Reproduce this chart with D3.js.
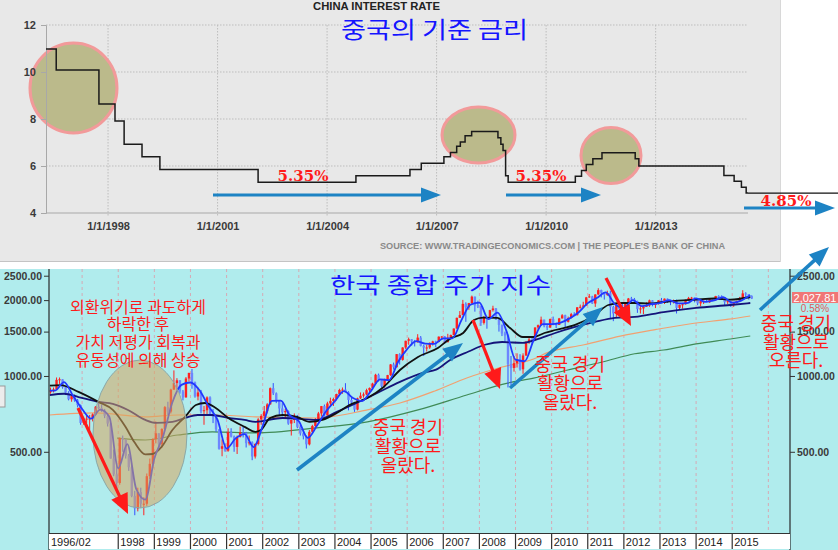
<!DOCTYPE html>
<html><head><meta charset="utf-8">
<script src="https://cdn.jsdelivr.net/npm/d3@7"></script>
<style>html,body{margin:0;padding:0;background:#fff;overflow:hidden}svg{display:block}</style>
</head><body>
<svg id="c" width="838" height="550"></svg>
<script>
// ================= DATA =================
// China benchmark 1-year lending rate (step changes, decimal year)
const rateYears  = [1996.30,1996.58,1997.75,1998.19,1998.44,1998.93,1999.42,2002.11,2004.79,2006.27,2006.58,2007.20,2007.38,2007.55,2007.65,2007.78,2007.96,2008.68,2008.76,2008.82,2008.89,2008.96,2010.80,2010.97,2011.10,2011.28,2011.53,2012.44,2012.54,2014.87,2015.15,2015.35,2015.48];
const rateValues = [10.98,10.08,8.64,7.92,6.93,6.39,5.85,5.31,5.58,5.85,6.12,6.39,6.57,6.84,7.02,7.29,7.47,7.20,6.93,6.66,5.58,5.31,5.56,5.81,6.06,6.31,6.56,6.31,6.00,5.60,5.35,5.10,4.85];
const rateEndYear = 2015.53;
const rateTickValues = [4,6,8,10,12];
const rateTickYears = [1998,2001,2004,2007,2010,2013];

// KOSPI monthly candles, Feb 1996 .. Jul 2015
const kospiStartYear = 1996, kospiStartMonth = 2, kospiFirstOpen = 862;
const kospiClose = [
 878,884,965,970,902,858,808,832,800,766,651,
 675,677,678,704,755,745,727,695,647,470,407,376,
 567,559,482,434,334,298,346,311,311,400,448,562,
 592,536,616,752,722,883,937,961,868,822,977,1028,
 943,829,860,725,731,822,705,688,614,514,526,505,
 598,575,523,572,596,595,541,545,479,537,672,694,
 724,771,894,853,797,743,718,725,647,669,687,628,
 592,576,535,600,633,670,710,759,697,778,796,810,
 848,880,883,862,803,785,735,815,835,845,878,896,
 932,1011,965,911,970,1008,1111,1083,1221,1158,1297,1379,
 1399,1371,1359,1420,1317,1295,1297,1352,1371,1364,1432,1434,
 1361,1417,1453,1542,1701,1744,1933,1873,1946,2065,1906,1897,
 1624,1712,1704,1825,1853,1674,1595,1474,1448,1113,1076,1124,
 1162,1063,1206,1369,1396,1390,1557,1591,1673,1580,1555,1682,
 1602,1594,1692,1741,1641,1698,1759,1742,1873,1882,1904,2051,
 2069,1939,2106,2192,2142,2100,2133,1880,1770,1909,1847,1826,
 1956,2030,2014,1981,1843,1854,1881,1905,1996,1912,1933,1997,
 1962,2027,2005,1964,2001,1863,1915,1926,1997,2040,2045,2011,
 1941,1980,1986,1962,2017,2002,2076,2068,2020,1964,1981,1916,
 1949,1986,2041,2127,2115,2074,2028];
const kospiHigh = [
 900,900,986,986,970,905,870,845,845,810,770,
 680,700,700,710,760,792,770,740,700,650,510,450,
 570,580,560,490,440,350,360,360,330,410,470,565,
 660,590,620,760,790,890,1052,980,960,880,990,1030,
 1066,950,900,880,760,830,830,740,700,610,560,540,
 620,620,580,580,630,630,600,580,550,540,680,705,
 760,780,900,937,860,800,780,740,730,670,710,700,
 640,610,580,610,640,680,720,760,770,790,820,820,
 850,890,900,936,870,820,790,820,860,860,890,900,
 940,1020,1022,970,975,1010,1115,1130,1222,1230,1300,1380,
 1420,1400,1390,1465,1440,1330,1330,1360,1380,1380,1435,1440,
 1440,1470,1460,1545,1705,1810,2004,1960,1950,2085,2050,1990,
 1900,1730,1710,1830,1900,1860,1700,1600,1500,1460,1200,1200,
 1230,1220,1230,1370,1435,1440,1560,1600,1720,1670,1610,1690,
 1720,1630,1700,1760,1750,1720,1780,1790,1875,1920,1970,2060,
 2115,2080,2110,2230,2200,2150,2180,2180,1900,1940,1950,1940,
 1960,2040,2060,2040,1990,1900,1900,1960,2010,2000,1940,2000,
 2040,2030,2030,2000,2010,2010,1920,1950,2010,2060,2060,2050,
 2010,1990,1990,2010,2020,2020,2080,2090,2090,2030,1990,1990,
 1960,1990,2060,2190,2150,2110,2090];
const kospiLow = [
 850,860,880,930,890,840,800,790,790,750,640,
 640,650,610,660,700,740,720,680,630,470,400,350,
 370,500,470,420,330,280,290,300,280,305,390,430,
 540,510,520,610,700,710,880,880,850,800,820,950,
 890,820,800,710,640,700,700,650,600,510,480,500,
 500,570,500,490,570,570,520,530,463,470,530,640,
 670,710,770,840,780,700,690,680,640,580,650,620,
 580,560,515,530,590,620,660,690,690,700,760,760,
 800,840,850,860,730,760,720,730,810,820,840,860,
 880,930,950,900,900,960,1000,1060,1080,1110,1150,1280,
 1330,1320,1310,1360,1310,1200,1250,1280,1320,1300,1360,1390,
 1345,1360,1400,1450,1540,1700,1750,1640,1830,1930,1800,1860,
 1580,1600,1540,1700,1800,1670,1500,1440,1360,900,920,1040,
 1080,1050,1020,1200,1340,1330,1380,1530,1580,1560,1520,1560,
 1590,1550,1600,1690,1550,1630,1690,1730,1740,1850,1880,1900,
 2040,1930,1880,2100,2050,2010,2080,1690,1650,1700,1800,1760,
 1820,1940,1990,1960,1780,1770,1760,1880,1880,1890,1860,1920,
 1950,1930,1950,1910,1940,1770,1830,1850,1920,2000,2000,1960,
 1910,1890,1930,1960,1950,1980,1990,2040,2010,1900,1930,1880,
 1880,1940,1970,2040,2060,2010,2020];

// Moving-average lines (decimal year, index value)
const maBlueYears = [1996.1,1996.25,1996.5,1996.75,1997.0,1997.25,1997.5,1997.75,1998.0,1998.25,1998.5,1998.75,1999.0,1999.25,1999.5,1999.75,2000.0,2000.25,2000.5,2000.75,2001.0,2001.25,2001.5,2001.75,2002.0,2002.25,2002.5,2002.75,2003.0,2003.25,2003.5,2003.75,2004.0,2004.25,2004.5,2004.75,2005.0,2005.25,2005.5,2005.75,2006.0,2006.25,2006.5,2006.75,2007.0,2007.25,2007.5,2007.75,2008.0,2008.25,2008.5,2008.75,2009.0,2009.25,2009.5,2009.75,2010.0,2010.25,2010.5,2010.75,2011.0,2011.25,2011.5,2011.75,2012.0,2012.25,2012.5,2012.75,2013.0,2013.25,2013.5,2013.75,2014.0,2014.25,2014.5,2014.75,2015.0,2015.25,2015.5];
const maBlueValues = [875,875,946,833,739,677,735,690,430,536,355,323,470,581,786,922,942,877,759,669,515,565,588,522,634,796,798,697,661,568,634,722,795,870,817,795,873,969,963,1138,1278,1376,1344,1340,1410,1410,1662,1917,1956,1680,1784,1506,1160,1144,1385,1607,1606,1629,1693,1791,1946,2038,2145,1928,1861,2000,1893,1927,1947,1998,1943,1946,2032,1969,1994,2055,1954,1992,2090];
const maBlackYears = [1996.1,1996.4,1996.9,1997.45,1997.85,1998.2,1998.45,1998.75,1998.95,1999.2,1999.5,1999.85,2000.15,2000.4,2000.7,2001.05,2001.5,2001.8,2001.95,2002.2,2002.55,2002.95,2003.3,2003.65,2004.05,2004.4,2004.9,2005.35,2005.8,2006.3,2006.85,2007.2,2007.55,2007.85,2008.1,2008.5,2008.85,2009.2,2009.5,2009.8,2010.1,2010.65,2011.2,2011.57,2011.95,2012.3,2012.7,2013.1,2013.5,2014.0,2014.5,2014.95,2015.5];
const maBlackValues = [915,920,864,789,733,628,545,488,490,523,610,688,767,781,746,681,628,600,610,680,700,688,657,669,713,767,818,904,1056,1190,1291,1410,1481,1668,1705,1700,1550,1428,1428,1481,1522,1594,1746,1913,1948,1948,1940,1966,1990,2010,2030,2010,2058];
const maNavyYears = [1996.1,1996.5,1996.9,1997.45,1997.85,1998.27,1998.75,1999.05,1999.5,1999.85,2000.2,2000.6,2001.05,2001.5,2001.8,2002.55,2003.5,2004.05,2004.6,2005.17,2005.8,2006.45,2006.8,2007.2,2007.7,2008.15,2008.63,2009.2,2009.55,2010.1,2010.65,2011.2,2011.75,2012.3,2013.1,2014.0,2014.95,2015.5];
const maNavyValues = [840,850,825,789,775,733,669,651,657,681,700,700,681,669,657,681,669,720,781,856,947,1030,1060,1160,1250,1330,1364,1352,1390,1481,1565,1638,1699,1715,1793,1862,1913,1948];
const maOrangeYears = [1996.1,1997.35,1998.75,1999.65,2000.6,2001.8,2003.5,2004.9,2005.8,2006.75,2007.65,2008.6,2009.5,2009.9,2010.9,2011.9,2012.9,2013.9,2014.9,2015.5];
const maOrangeValues = [700,713,688,700,700,688,681,733,781,870,982,1083,1168,1240,1330,1440,1530,1615,1680,1730];
const maGreenYears = [1997.97,1998.75,1999.65,2000.6,2001.8,2003.5,2004.9,2006.3,2007.65,2008.75,2009.5,2010.45,2011.4,2012.3,2013.1,2014.0,2014.95,2015.5];
const maGreenValues = [567,557,583,600,594,622,657,733,840,935,980,1056,1136,1225,1268,1340,1402,1441];

const kospiTickValues = [500,1000,1500,2000,2500];
const kospiRightTickValues = [500,1000,1500,2500];
const kospiYearTicks = [1997,1998,1999,2000,2001,2002,2003,2004,2005,2006,2007,2008,2009,2010,2011,2012,2013,2014,2015,2016];
const kospiYearLabels = ["1996/02","1998","1999","2000","2001","2002","2003","2004","2005","2006","2007","2008","2009","2010","2011","2012","2013","2014","2015"];
const kospiLabelYears = [1996.083,1998,1999,2000,2001,2002,2003,2004,2005,2006,2007,2008,2009,2010,2011,2012,2013,2014,2015];
const kospiLast = "2,027.81", kospiChange = "0.58%";

// ================= DRAW =================
const svg = d3.select('#c');
const KR = "'Noto Sans CJK KR','Noto Sans',sans-serif";
const SANS = "'Liberation Sans','DejaVu Sans',Arial,sans-serif";

// ---------- top panel ----------
svg.append('rect').attr('x',0).attr('y',0).attr('width',781).attr('height',262).attr('fill','#e8e8e8');
svg.append('line').attr('x1',0).attr('x2',781).attr('y1',261.5).attr('y2',261.5).attr('stroke','#c4c4c4');
svg.append('line').attr('x1',780.5).attr('x2',780.5).attr('y1',0).attr('y2',262).attr('stroke','#d8d8d8');

const xT = d3.scaleLinear().domain([1996.3, 2015.53]).range([46, 748]);
const yT = d3.scaleLinear().domain([4, 12]).range([213, 25]);
const topG = svg.append('g');
// grid
topG.selectAll('.hg').data(rateTickValues.slice(1)).join('line')
  .attr('x1',46).attr('x2',748).attr('y1',d=>yT(d)).attr('y2',d=>yT(d))
  .attr('stroke','#bdbdbd').attr('stroke-dasharray','1.5,1.5');
topG.selectAll('.vg').data(rateTickYears).join('line')
  .attr('x1',d=>xT(d)).attr('x2',d=>xT(d)).attr('y1',25).attr('y2',216)
  .attr('stroke','#bdbdbd').attr('stroke-dasharray','1.5,1.5');
// highlight circles (under the line)
const ellipsesTop = [[73.5,88,43.5,45],[478.5,135,36.5,28],[611,155.5,30,28]];
topG.selectAll('.et').data(ellipsesTop).join('ellipse')
  .attr('cx',d=>d[0]).attr('cy',d=>d[1]).attr('rx',d=>d[2]).attr('ry',d=>d[3])
  .attr('fill','#bbba8b').attr('stroke','#f29a9a').attr('stroke-width',3);
const yAxT = topG.append('g').attr('transform','translate(46,0)')
  .call(d3.axisLeft(yT).tickValues(rateTickValues).tickSize(5).tickPadding(5));
const xAxT = topG.append('g').attr('transform','translate(0,213)')
  .call(d3.axisBottom(xT).tickValues(rateTickYears).tickSize(0).tickPadding(9).tickFormat(d=>'1/1/'+d));
[yAxT,xAxT].forEach(a=>{
  a.select('.domain').attr('stroke','#a8a8a8');
  a.selectAll('.tick line').attr('stroke','#a8a8a8');
  a.selectAll('text').attr('font-family',SANS).attr('font-weight','bold').attr('font-size',11).attr('fill','#3a3a3a');
});
xAxT.select('.domain').attr('d','M46,0H748');
// rate line
const rateData = d3.zip(rateYears, rateValues).concat([[rateEndYear, rateValues[rateValues.length-1]]]);
topG.append('path').datum(rateData)
  .attr('d', d3.line().x(d=>xT(d[0])).y(d=>yT(d[1])).curve(d3.curveStepAfter))
  .attr('fill','none').attr('stroke','#1a1a1a').attr('stroke-width',1.5);
// extension line to the right edge
topG.append('line').attr('x1',xT(rateEndYear)).attr('x2',838)
  .attr('y1',yT(rateValues[rateValues.length-1])).attr('y2',yT(rateValues[rateValues.length-1]))
  .attr('stroke','#111').attr('stroke-width',1.3);
// titles
topG.append('text').attr('x',313).attr('y',10).attr('textLength',127).attr('lengthAdjust','spacingAndGlyphs')
  .attr('font-family',SANS).attr('font-weight','bold').attr('font-size',10).attr('fill','#222').text('CHINA INTEREST RATE');
topG.append('text').attr('x',380).attr('y',249).attr('textLength',345).attr('lengthAdjust','spacingAndGlyphs')
  .attr('font-family',SANS).attr('font-weight','bold').attr('font-size',8.5).attr('fill','#8a8a8a')
  .text("SOURCE: WWW.TRADINGECONOMICS.COM  |  THE PEOPLE'S BANK OF CHINA");

// ---------- bottom panel ----------
svg.append('rect').attr('x',0).attr('y',269).attr('width',838).attr('height',281).attr('fill','#b0eced');
const xB = d3.scaleLinear().domain([1996.083, 2016.6]).range([49, 790]);
const yB = d3.scaleLog().domain([238, 2634]).range([533, 270]);
const bot = svg.append('g');
svg.append('defs').append('clipPath').attr('id','pc').append('rect')
  .attr('x',49).attr('y',269).attr('width',741).attr('height',264);
const plot = bot.append('g').attr('clip-path','url(#pc)');
plot.selectAll('.yg').data(kospiYearTicks).join('line')
  .attr('x1',d=>xB(d)).attr('x2',d=>xB(d)).attr('y1',269).attr('y2',533)
  .attr('stroke','#d6a9b4').attr('stroke-dasharray','3,3');

// MA lines (long ones first)
const maLine = d3.line().x(d=>xB(d[0])).y(d=>yB(d[1])).curve(d3.curveMonotoneX);
const drawMA = (ys, vs, color, w) => plot.append('path').datum(d3.zip(ys, vs))
  .attr('d', maLine).attr('fill','none').attr('stroke',color).attr('stroke-width',w);
drawMA(maGreenYears, maGreenValues, '#3f8a55', 1.2);
drawMA(maOrangeYears, maOrangeValues, '#f2a070', 1.2);

// candles
const candles = kospiClose.map((c,i)=>{
  const o = i===0 ? kospiFirstOpen : kospiClose[i-1];
  return {t: kospiStartYear + (kospiStartMonth - 1 + i + 0.5)/12, o, c,
          h: Math.max(kospiHigh[i], o, c), l: Math.min(kospiLow[i], o, c)};
});
const cw = 2.4;
const cg = plot.append('g');
cg.selectAll('line').data(candles).join('line')
  .attr('x1',d=>xB(d.t)).attr('x2',d=>xB(d.t)).attr('y1',d=>yB(d.h)).attr('y2',d=>yB(d.l))
  .attr('stroke',d=>d.c>=d.o?'#ff2020':'#3350ff').attr('stroke-width',1);
cg.selectAll('rect').data(candles).join('rect')
  .attr('x',d=>xB(d.t)-cw/2).attr('width',cw)
  .attr('y',d=>yB(Math.max(d.o,d.c))).attr('height',d=>Math.max(1,Math.abs(yB(d.o)-yB(d.c))))
  .attr('fill',d=>d.c>=d.o?'#ff2020':'#6d86ff');

drawMA(maNavyYears, maNavyValues, '#14147a', 1.8);
drawMA(maBlackYears, maBlackValues, '#111111', 1.8);
drawMA(maBlueYears, maBlueValues, '#2038ff', 1.8);

// axes
const yAxL = bot.append('g').attr('transform','translate(49,0)')
  .call(d3.axisLeft(yB).tickValues(kospiTickValues).tickFormat(d3.format('.2f')).tickSize(5).tickPadding(2));
const yAxR = bot.append('g').attr('transform','translate(790,0)')
  .call(d3.axisRight(yB).tickValues(kospiRightTickValues).tickFormat(d3.format('.2f')).tickSize(5).tickPadding(2));
[yAxL,yAxR].forEach(a=>{
  a.select('.domain').attr('d','M0,269V550').attr('stroke','#4a5a5a').attr('stroke-width',1.6);
  a.selectAll('.tick line').attr('stroke','#333');
  a.selectAll('text').attr('font-family',SANS).attr('font-weight','bold').attr('font-size',10.5).attr('fill','#3a3a3a');
});
// x band
bot.append('rect').attr('x',49).attr('y',533).attr('width',741).attr('height',16).attr('fill','#ffffff');
bot.append('line').attr('x1',49).attr('x2',790).attr('y1',533.5).attr('y2',533.5).attr('stroke','#333').attr('stroke-width',1.2);
bot.selectAll('.xt').data(kospiLabelYears.slice(1)).join('line')
  .attr('x1',d=>xB(d)).attr('x2',d=>xB(d)).attr('y1',533).attr('y2',549).attr('stroke','#333').attr('stroke-width',1.2);
bot.selectAll('.xl').data(kospiLabelYears).join('text')
  .attr('x',d=>xB(d)+2).attr('y',546).attr('font-family',SANS).attr('font-size',11).attr('fill','#222')
  .text((d,i)=>kospiYearLabels[i]);
// last value label
bot.append('rect').attr('x',792).attr('y',292).attr('width',46).attr('height',11).attr('fill','#f07676');
bot.append('text').attr('x',815).attr('y',301.5).attr('text-anchor','middle').attr('font-family',SANS)
  .attr('font-size',11).attr('fill','#fff').text(kospiLast);
bot.append('text').attr('x',815).attr('y',312).attr('text-anchor','middle').attr('font-family',SANS)
  .attr('font-size',10).attr('fill','#e05a5a').text(kospiChange);
// left tab
svg.append('rect').attr('x',-1).attr('y',386).attr('width',6).attr('height',21).attr('fill','#ececec').attr('stroke','#999');

// ---------- annotations ----------
const ann = svg.append('g');
ann.append('ellipse').attr('cx',140).attr('cy',434).attr('rx',47).attr('ry',74)
  .attr('fill','rgba(215,165,95,0.55)').attr('stroke','#8aa8a8').attr('stroke-width',1);

function arrow(x1,y1,x2,y2,color,lw,hl,hw){
  const dx=x2-x1, dy=y2-y1, L=Math.hypot(dx,dy), ux=dx/L, uy=dy/L;
  const bx=x2-ux*hl, by=y2-uy*hl;
  ann.append('line').attr('x1',x1).attr('y1',y1).attr('x2',bx+ux*1).attr('y2',by+uy*1)
    .attr('stroke',color).attr('stroke-width',lw);
  ann.append('polygon').attr('fill',color)
    .attr('points',`${x2},${y2} ${bx-uy*hw},${by+ux*hw} ${bx+uy*hw},${by-ux*hw}`);
}
const topArrows = [[213,195,441,195],[506,195,601,195],[744,208,835,208]];
topArrows.forEach(a=>arrow(...a,'#1d83c4',3.2,20,7.5));
const redArrows = [[78,408,128,514],[473,320,500,389],[606,278,631,326]];
redArrows.forEach(a=>arrow(...a,'#ff1a1a',3.2,20,9));
const blueArrows = [[297,470,463,343],[510,388,603,307],[760,310,829,247]];
blueArrows.forEach(a=>arrow(...a,'#1d83c4',3.6,20,8));

// red percentage labels
const pctLabels = [[303,181,'5.35%'],[541,181,'5.35%'],[786,206,'4.85%']];
ann.selectAll('.pl').data(pctLabels).join('text')
  .attr('x',d=>d[0]).attr('y',d=>d[1]).attr('text-anchor','middle')
  .attr('font-family',"'DejaVu Serif','Liberation Serif',serif").attr('font-weight','bold')
  .attr('font-size',15).attr('fill','#ff1a1a').text(d=>d[2]);

// Korean titles
ann.append('text').attr('x',341).attr('y',38).attr('textLength',187).attr('lengthAdjust','spacingAndGlyphs')
  .attr('font-family',KR).attr('font-size',23).attr('fill','#1414ff').text('중국의 기준 금리');
ann.append('text').attr('x',330).attr('y',293).attr('textLength',221).attr('lengthAdjust','spacingAndGlyphs')
  .attr('font-family',KR).attr('font-size',22).attr('fill','#1414ff').text('한국 종합 주가 지수');

// red notes (each block is one text with lines)
const noteBlocks = [
  {x:138, y:307, size:16, lh:17.7, lines:['외환위기로 과도하게','하락한 후','가치 저평가 회복과','유동성에 의해 상승']},
  {x:408, y:428, size:18, lh:19, lines:['중국 경기','활황으로','올랐다.']},
  {x:570, y:365, size:18, lh:19, lines:['중국 경기','활황으로','올랐다.']},
  {x:796, y:324, size:18, lh:18.5, lines:['중국 경기','활황으로','오른다.']}
];
noteBlocks.forEach(b=>{
  const t = ann.append('text').attr('x',b.x).attr('y',b.y).attr('text-anchor','middle')
    .attr('font-family',KR).attr('font-size',b.size).attr('fill','#ff1a1a');
  b.lines.forEach((l,i)=>t.append('tspan').attr('x',b.x).attr('y',b.y + i*b.lh + b.size*0.36).text(l));
});
</script>
</body></html>
